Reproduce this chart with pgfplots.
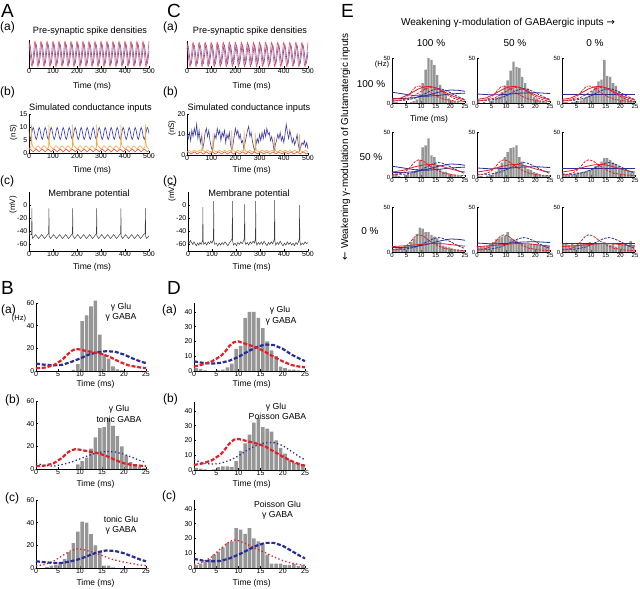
\documentclass[border=0pt]{standalone}
\usepackage{pgfplots}
\pgfplotsset{compat=1.18}
\usepackage{pgfplotstable}
\usepackage{fontspec}
\setmainfont{Liberation Sans}
\newfontfamily\arrowfont{DejaVu Sans}

\definecolor{cRed}{RGB}{228,30,38}
\definecolor{cBlue}{RGB}{40,45,150}
\definecolor{barG}{RGB}{150,150,150}
\definecolor{psRed}{RGB}{228,80,100}
\definecolor{psBlue}{RGB}{90,80,170}
\definecolor{cOr}{RGB}{242,170,60}
\definecolor{cRd}{RGB}{232,70,50}
\definecolor{cBl}{RGB}{60,60,165}
\definecolor{mpG}{RGB}{60,60,60}

\newcommand{\fs}[1]{\fontsize{#1}{#1}\selectfont}

\pgfplotsset{
  P/.style={scale only axis, anchor=south west,
    axis x line*=bottom, axis y line*=left,
    axis line style={black, line width=0.5pt},
    tick style={black, line width=0.4pt},
    tick align=inside, major tick length=2pt,
    tick label style={font=\fs{7}},
    xticklabel style={inner sep=0.8pt},
    yticklabel style={inner sep=1.5pt},
    /pgf/number format/assume math mode=true,
    /pgf/number format/1000 sep={},
    clip=false},
  TS/.style={P, xmin=0, xmax=500, xtick={0,100,...,500}},
  H/.style={P, width=110pt, height=68pt, xmin=0, xmax=25, ymin=0, xtick={0,5,...,25}},
  Ep/.style={P, width=73pt, height=45pt, xmin=0, xmax=25, ymin=0, ymax=50,
    xtick={0,5,...,25}, ytick={0,50}, tick label style={font=\fs{6}},
    major tick length=1.5pt},
  bars/.style={ybar, bar width=0.8, bar shift=0pt, fill=barG, draw=none},
  tdash/.style={line width=2.2pt, dash pattern=on 4pt off 1.8pt},
  tdot/.style={line width=1.3pt, dash pattern=on 1.3pt off 2.4pt},
  edash/.style={line width=0.8pt, dash pattern=on 2.5pt off 1.2pt},
  edd/.style={line width=0.8pt, dash pattern=on 2.5pt off 1pt on 0.8pt off 1pt},
}

% pre-synaptic spike densities
\pgfplotstableread{
t y
0 .95
12.5 .05
25 .95
37.5 .05
50 .95
62.5 .05
75 .95
87.5 .05
100 .95
112.5 .05
125 .95
137.5 .05
150 .95
162.5 .05
175 .95
187.5 .05
200 .95
212.5 .05
225 .95
237.5 .05
250 .95
262.5 .05
275 .95
287.5 .05
300 .95
312.5 .05
325 .95
337.5 .05
350 .95
362.5 .05
375 .95
387.5 .05
400 .95
412.5 .05
425 .95
437.5 .05
450 .95
462.5 .05
475 .95
487.5 .05
500 .95
}\psred
\pgfplotstableread{
t y
0 .7
4 .85
16.5 .15
29 .85
41.5 .15
54 .85
66.5 .15
79 .85
91.5 .15
104 .85
116.5 .15
129 .85
141.5 .15
154 .85
166.5 .15
179 .85
191.5 .15
204 .85
216.5 .15
229 .85
241.5 .15
254 .85
266.5 .15
279 .85
291.5 .15
304 .85
316.5 .15
329 .85
341.5 .15
354 .85
366.5 .15
379 .85
391.5 .15
404 .85
416.5 .15
429 .85
441.5 .15
454 .85
466.5 .15
479 .85
491.5 .15
500 .6
}\psblue

% small red conductance
\pgfplotstableread{
t y
0 1.2
5 1.5
17.5 0.5
30 1.5
42.5 0.5
55 1.5
67.5 0.5
80 1.5
92.5 0.5
105 1.5
117.5 0.5
130 1.5
142.5 0.5
155 1.5
167.5 0.5
180 1.5
192.5 0.5
205 1.5
217.5 0.5
230 1.5
242.5 0.5
255 1.5
267.5 0.5
280 1.5
292.5 0.5
305 1.5
317.5 0.5
330 1.5
342.5 0.5
355 1.5
367.5 0.5
380 1.5
392.5 0.5
405 1.5
417.5 0.5
430 1.5
442.5 0.5
455 1.5
467.5 0.5
480 1.5
492.5 0.5
500 1.0
}\gred

% E panel curves
\pgfplotstableread{
t y
0 2
2 3
4 5
5 7
6 10
7 14
8 17.5
9 19
10 18.5
11 17
12 14.5
14 10
16 6.5
18 4
20 3
22 2
25 1.5
}\Erd
\pgfplotstableread{
t y
0 2
3 3
6 5.5
8 9
10 13
12 16.5
13.5 17.5
15 16.5
17 13
19 9
21 5.5
23 3
25 2
}\ErdL
\pgfplotstableread{
t y
0 3
2 3
4 3
6 4
8 5.5
10 8
12 11.5
14 14.5
15 15.5
16 16
17 15.5
18 14.5
20 11.5
22 8
24 5
25 4
}\Ebd
\pgfplotstableread{
t y
0 4
3 5.5
6 10
9 15.5
11 18
13 18.5
15 17
17 14
19 10.5
21 7.5
23 5
25 3.5
}\ErsA
\pgfplotstableread{
t y
0 5.5
4 7.5
8 11.5
11 13.5
14 14
17 12
20 9
23 6.5
25 5.5
}\ErsB
\pgfplotstableread{
t y
0 6
5 7
10 8.5
14 9.5
18 9
22 7.5
25 6.5
}\ErsC
\pgfplotstableread{
t y
0 12
4 10
8 8
12 7.5
16 8.5
20 10
25 11
}\EbsA
\pgfplotstableread{
t y
0 5
4 5
8 6
12 8.5
16 12
20 14.5
23 14
25 13
}\EbsAA
\pgfplotstableread{
t y
0 10
5 9
10 9.5
15 11
20 11.5
25 10.5
}\EbsB
\pgfplotstableread{
t y
0 9.5
10 9.5
20 9.5
25 9.5
}\EbsC

\begin{document}
\begin{tikzpicture}
\useasboundingbox (0pt,0pt) rectangle (640pt,589pt);

% ---------------- panel letters ----------------
\node[anchor=base west, inner sep=0pt, font=\fs{19}] at (1pt,571pt) {A};
\node[anchor=base west, inner sep=0pt, font=\fs{19}] at (167pt,571pt) {C};
\node[anchor=base west, inner sep=0pt, font=\fs{19}] at (1pt,294pt) {B};
\node[anchor=base west, inner sep=0pt, font=\fs{19}] at (167pt,294pt) {D};
\node[anchor=base west, inner sep=0pt, font=\fs{19}] at (341pt,571pt) {E};

\foreach \xx/\yy/\tt in {0/558.5/(a), 0/493/(b), 0/404.5/(c), 163/558.5/(a), 163/493/(b), 163/404.5/(c), 1/275/(a), 5/185/(b), 5/87/(c), 162/275/(a), 163/186/(b), 162/89/(c)}
  \node[anchor=base west, inner sep=0pt, font=\fs{12}] at (\xx pt,\yy pt) {\tt};

% ---------------- A(a) ----------------
\begin{axis}[TS, at={(29pt,521pt)}, width=120pt, height=28pt, ymin=0, ymax=1, ytick=\empty]
\addplot[psBlue, line width=0.6pt, smooth] table {\psblue};
\addplot[psRed, line width=0.6pt, smooth] table {\psred};
\end{axis}
\node[anchor=base, font=\fs{9.2}] at (90pt,555pt) {Pre-synaptic spike densities};
\node[anchor=base, font=\fs{8.5}] at (92pt,500pt) {Time (ms)};

% ---------------- A(b) ----------------
\begin{axis}[TS, at={(29pt,436pt)}, width=120pt, height=39pt, ymin=0, ymax=15, ytick={0,5,10,15}]
\addplot[cBl, line width=0.6pt, smooth] coordinates {(0,9) (5,5.2) (17.5,9.8) (30,5.2) (42.5,9.8) (55,5.2) (67.5,9.8) (80,5.2) (92.5,9.8) (105,5.2) (117.5,9.8) (130,5.2) (142.5,9.8) (155,5.2) (167.5,9.8) (180,5.2) (192.5,9.8) (205,5.2) (217.5,9.8) (230,5.2) (242.5,9.8) (255,5.2) (267.5,9.8) (280,5.2) (292.5,9.8) (305,5.2) (317.5,9.8) (330,5.2) (342.5,9.8) (355,5.2) (367.5,9.8) (380,5.2) (392.5,9.8) (405,5.2) (417.5,9.8) (430,5.2) (442.5,9.8) (455,5.2) (467.5,9.8) (480,5.2) (492.5,9.8) (500,7.5)};
\addplot[cOr, line width=0.6pt] coordinates {(0,1.6) (9,2.5) (10,11) (12,4) (15,2.6) (25,1.6) (37.5,2.8) (50,1.6) (62.5,2.8) (75,1.6) (82,2.2) (83,11) (85,4) (88,2.6) (100,1.6) (112.5,2.8) (125,1.6) (137.5,2.8) (150,1.6) (162.5,2.8) (175,1.6) (181,2.2) (182,11) (184,4) (187,2.8) (200,1.6) (212.5,2.8) (225,1.6) (237.5,2.8) (250,1.6) (262.5,2.8) (275,1.6) (281,2.2) (282,11) (284,4) (287,2.8) (300,1.6) (312.5,2.8) (325,1.6) (337.5,2.8) (350,1.6) (362.5,2.8) (375,1.6) (382,2.4) (383,11) (385,4) (388,2.6) (400,1.6) (412.5,2.8) (425,1.6) (437.5,2.8) (450,1.6) (462.5,2.8) (475,1.6) (484,2.4) (485,11) (487,4) (490,2.4) (500,1.6)};
\addplot[cRd, line width=0.6pt, smooth] table {\gred};
\end{axis}
\node[anchor=base, font=\fs{9.2}] at (90.5pt,478pt) {Simulated conductance inputs};
\node[anchor=base, font=\fs{8.5}] at (92pt,416pt) {Time (ms)};
\node[rotate=90, font=\fs{8}] at (13.5pt,456.5pt) {(nS)};

% ---------------- A(c) ----------------
\begin{axis}[TS, at={(29pt,338pt)}, width=120pt, height=59pt, ymin=-70, ymax=20, ytick={-60,-40,-20,0}]
\addplot[mpG, line width=0.5pt] coordinates {(0,-40) (2.5,-45) (10,-45) (11,-42) (12,-5) (13,-46) (15,-51) (27.5,-45) (40,-51) (52.5,-45) (65,-51) (77.5,-45) (82,-43) (83,-5) (84,-47) (90,-51) (102.5,-45) (115,-51) (127.5,-45) (140,-51) (152.5,-45) (165,-51) (177.5,-45) (181,-43) (182,-5) (183,-47) (190,-51) (202.5,-45) (215,-51) (227.5,-45) (240,-51) (252.5,-45) (265,-51) (277.5,-45) (281,-43) (282,-5) (283,-47) (290,-51) (302.5,-45) (315,-51) (327.5,-45) (340,-51) (352.5,-45) (365,-51) (377.5,-45) (382,-43) (383,-5) (384,-47) (390,-51) (402.5,-45) (415,-51) (427.5,-45) (440,-51) (452.5,-45) (465,-51) (477.5,-45) (484,-43) (485,-5) (486,-47) (490,-51) (500,-47)};
\end{axis}
\node[anchor=base, font=\fs{9.2}] at (89pt,392.4pt) {Membrane potential};
\node[anchor=base, font=\fs{8.5}] at (92pt,319.5pt) {Time (ms)};
\node[rotate=90, font=\fs{8}] at (13pt,384pt) {(mV)};

% ---------------- C(a) ----------------
\begin{axis}[TS, at={(187pt,521pt)}, width=121pt, height=27pt, ymin=0, ymax=1, ytick=\empty]
\addplot[psBlue, line width=0.6pt, smooth] table {\psblue};
\addplot[psRed, line width=0.6pt, smooth] table {\psred};
\end{axis}
\node[anchor=base, font=\fs{9.2}] at (250pt,555pt) {Pre-synaptic spike densities};
\node[anchor=base, font=\fs{8.5}] at (251.7pt,500pt) {Time (ms)};

% ---------------- C(b) ----------------
\begin{axis}[TS, at={(187pt,434pt)}, width=121pt, height=41pt, ymin=0, ymax=20, ytick={0,10,20}]
\addplot[cBl, line width=0.6pt] coordinates {(0,10) (5,8) (10,11) (15,7) (20,12) (25,9) (30,13) (35,10) (40,15) (45,8) (50,12) (55,6) (60,9) (65,3) (70,6) (75,11) (80,13) (85,9) (90,12) (95,7) (100,4) (105,2) (110,6) (115,10) (120,8) (125,13) (130,10) (135,12) (140,7) (145,11) (150,9) (155,12) (160,6) (165,10) (170,8) (175,11) (180,5) (185,2) (190,5) (195,9) (200,13) (205,10) (210,12) (215,8) (220,10) (225,6) (230,7) (235,3) (240,6) (245,9) (250,12) (255,14) (260,9) (265,11) (270,7) (275,4) (280,2) (285,5) (290,8) (295,6) (300,10) (305,7) (310,11) (315,8) (320,12) (325,9) (330,13) (335,10) (340,11) (345,7) (350,9) (355,6) (360,2) (365,5) (370,7) (375,10) (380,8) (385,11) (390,7) (395,9) (400,6) (405,10) (410,15) (415,11) (420,8) (425,12) (430,9) (435,6) (440,8) (445,5) (450,7) (455,10) (460,5) (465,2) (470,4) (475,6) (480,5) (485,7) (490,4) (495,6) (500,3)};
\addplot[cOr, line width=0.6pt] coordinates {(0,1.5) (10,2.2) (20,1.4) (30,2.4) (40,1.6) (50,2.2) (61,2) (62,11) (64,4) (67,2.2) (75,1.5) (85,2.4) (95,1.6) (106,2) (107,10.5) (109,4) (112,2) (125,1.5) (135,2.4) (145,1.5) (155,2.3) (165,1.5) (175,2.2) (184,2) (185,12) (187,4) (190,2.2) (200,1.5) (210,2.4) (220,1.6) (230,2.2) (235,2) (236,12) (238,4) (241,2) (250,1.5) (260,2.3) (270,1.5) (281,2) (282,10.5) (284,4) (287,2.2) (300,1.5) (310,2.4) (320,1.6) (330,2.3) (340,1.5) (350,2.2) (360,2) (361,9) (363,4) (366,2) (375,1.5) (385,2.4) (395,1.6) (405,2.3) (415,1.5) (425,2.2) (435,1.5) (445,2.3) (455,1.6) (464,2) (465,10) (467,4) (470,2) (480,1.5) (490,2.2) (500,1.6)};
\addplot[cRd, line width=0.6pt, smooth] table {\gred};
\end{axis}
\node[anchor=base, font=\fs{9.2}] at (249pt,478pt) {Simulated conductance inputs};
\node[anchor=base, font=\fs{8.5}] at (251.7pt,416pt) {Time (ms)};
\node[rotate=90, font=\fs{8}] at (172pt,461pt) {(nS)};

% ---------------- C(c) ----------------
\begin{axis}[TS, at={(188pt,338pt)}, width=120pt, height=59pt, ymin=-70, ymax=20, ytick={-60,-40,-20,0}]
\addplot[mpG, line width=0.5pt] coordinates {(0,-55) (5,-58) (10,-54) (15,-57) (20,-60) (25,-56) (30,-59) (35,-62) (40,-58) (45,-61) (50,-57) (55,-60) (60,-55) (61,-52) (62,-3) (63,-55) (66,-60) (72,-57) (78,-61) (84,-56) (90,-59) (95,-55) (100,-58) (105,-53) (106,-50) (107,6) (108,-55) (112,-60) (118,-58) (124,-62) (130,-58) (136,-61) (142,-57) (148,-60) (154,-56) (160,-59) (166,-62) (172,-58) (178,-55) (183,-52) (184,-50) (185,6) (186,-55) (190,-61) (196,-58) (202,-62) (208,-57) (214,-60) (220,-56) (226,-59) (232,-54) (235,-51) (236,1) (237,-55) (241,-60) (247,-57) (253,-61) (259,-56) (265,-59) (271,-55) (277,-58) (280,-53) (281,-50) (282,6) (283,-55) (287,-61) (293,-57) (299,-60) (305,-56) (311,-60) (317,-55) (323,-59) (329,-62) (335,-57) (341,-60) (347,-56) (353,-59) (358,-54) (360,-50) (361,8) (362,-55) (366,-61) (372,-57) (378,-60) (384,-55) (390,-59) (396,-62) (402,-58) (408,-61) (414,-56) (420,-60) (426,-57) (432,-61) (438,-58) (444,-62) (450,-57) (456,-60) (461,-55) (464,-51) (465,0) (466,-55) (470,-61) (476,-58) (482,-60) (488,-56) (494,-59) (500,-57)};
\end{axis}
\node[anchor=base, font=\fs{9.2}] at (249pt,392.4pt) {Membrane potential};
\node[anchor=base, font=\fs{8.5}] at (251.7pt,319.5pt) {Time (ms)};
\node[rotate=90, font=\fs{8}] at (172pt,396pt) {(mV)};

% ---------------- B(a) ----------------
\begin{axis}[H, at={(36pt,218pt)}, ymax=60, ytick={0,20,40,60}]
\addplot[bars] coordinates {(8.5,1) (9.5,6) (10.5,44) (11.5,49) (12.5,57) (13.5,62) (14.5,32) (15.5,15) (16.5,11) (17.5,4) (18.5,1.5) (19.5,0.5)};
\addplot[cBlue, tdash] coordinates {(0,6.5) (2,5.5) (4,5) (6,5.5) (8,8) (10,11) (12,14.5) (14,16.5) (16,17.5) (18,17) (20,14.5) (22,11) (24,8) (25,7)};
\addplot[cRed, tdash] coordinates {(0,2.5) (2,3) (4,5) (6,10) (7,14) (8,17.5) (9,19.5) (10,19) (11,18) (13,16.5) (15,15) (17,12) (19,8) (21,5) (23,3.5) (25,2.5)};
\end{axis}
\node[font=\fs{7.5}] at (19pt,270.5pt) {(Hz)};
\node[anchor=base, font=\fs{8.7}] at (121pt,279.5pt) {γ Glu};
\node[anchor=base, font=\fs{8.7}] at (121pt,269pt) {γ GABA};
\node[anchor=base, font=\fs{8.5}] at (95.5pt,202.5pt) {Time (ms)};

% ---------------- B(b) ----------------
\begin{axis}[H, at={(36pt,120pt)}, ymax=60, ytick={0,20,40,60}]
\addplot[bars] coordinates {(9.5,4) (10.5,7) (11.5,10) (12.5,18) (13.5,28) (14.5,36) (15.5,37) (16.5,45) (17.5,38) (18.5,29) (19.5,20) (20.5,12) (21.5,6) (22.5,4) (23.5,2) (24.5,1)};
\addplot[cBlue, tdot] coordinates {(0,5) (2,3) (4,2.5) (6,4) (8,6) (10,9) (12,12) (14,14.5) (16,15.5) (18,15) (20,13) (22,10) (24,7) (25,6)};
\addplot[cRed, tdash] coordinates {(0,2.5) (2,3) (4,5) (6,10) (7,14) (8,16.5) (9,17.5) (10,17) (12,15.5) (14,14) (16,11.5) (18,8) (20,5) (22,3.5) (25,2.5)};
\end{axis}
\node[anchor=base, font=\fs{8.7}] at (119pt,177pt) {γ Glu};
\node[anchor=base, font=\fs{8.7}] at (119pt,166.5pt) {tonic GABA};
\node[anchor=base, font=\fs{8.5}] at (95.5pt,102.5pt) {Time (ms)};

% ---------------- B(c) ----------------
\begin{axis}[H, at={(36pt,21pt)}, ymax=60, ytick={0,20,40,60}]
\addplot[bars] coordinates {(2.5,1) (3.5,2) (4.5,3) (5.5,5) (6.5,8) (7.5,14) (8.5,22) (9.5,32) (10.5,41) (11.5,40) (12.5,30) (13.5,20) (14.5,14) (15.5,2) (16.5,2) (17.5,0.5)};
\addplot[cRed, tdot] coordinates {(0,2) (2,3) (4,6) (6,11) (8,15.5) (9.5,17) (11,16) (13,14) (15,11) (17,8) (19,6) (21,4.5) (23,3) (25,2)};
\addplot[cBlue, tdash] coordinates {(0,6) (2,5) (4,4.5) (6,4.5) (8,6) (10,8) (12,11) (14,14) (16,15.5) (18,15) (20,13) (22,10) (24,7) (25,6)};
\end{axis}
\node[anchor=base, font=\fs{8.7}] at (121pt,66.5pt) {tonic Glu};
\node[anchor=base, font=\fs{8.7}] at (121pt,56pt) {γ GABA};
\node[anchor=base, font=\fs{8.5}] at (95.5pt,3.3pt) {Time (ms)};

% ---------------- D(a) ----------------
\begin{axis}[H, at={(194pt,218pt)}, width=111pt, ymax=46, ytick={0,10,20,30,40}]
\addplot[bars] coordinates {(0.5,2) (1.5,1.5) (2.5,0.5) (5.5,0.5) (6.5,1) (7.5,2.5) (8.5,5) (9.5,15) (10.5,17) (11.5,36) (12.5,40) (13.5,40) (14.5,36) (15.5,29) (16.5,20) (17.5,14) (18.5,10) (19.5,3) (20.5,2) (21.5,1) (22.5,1) (23.5,0.5)};
\addplot[cBlue, tdash] coordinates {(0,6.5) (2,5.5) (4,5) (6,5.5) (8,7) (10,9.5) (12,13) (14,16) (16,18) (18,17.5) (20,15) (22,11) (24,8) (25,6.7)};
\addplot[cRed, tdash] coordinates {(0,3) (2,4.5) (4,6.5) (6,10) (7,13) (8,17) (9,19.5) (10,20) (12,18) (14,16) (16,13) (18,9.5) (20,6.5) (22,4) (24,2.8) (25,2.5)};
\end{axis}
\node[anchor=base, font=\fs{8.7}] at (280pt,276pt) {γ Glu};
\node[anchor=base, font=\fs{8.7}] at (281pt,265.5pt) {γ GABA};
\node[anchor=base, font=\fs{8.5}] at (251.7pt,202.5pt) {Time (ms)};

% ---------------- D(b) ----------------
\begin{axis}[H, at={(194pt,119pt)}, width=111pt, ymax=46, ytick={0,10,20,30,40}]
\addplot[bars] coordinates {(0.5,1.5) (1.5,1) (2.5,0.5) (4.5,0.5) (5.5,2) (6.5,2.5) (7.5,2.5) (8.5,2) (9.5,6) (10.5,13) (11.5,18) (12.5,24) (13.5,32) (14.5,35) (15.5,29) (16.5,28) (17.5,26) (18.5,20) (19.5,15) (20.5,11) (21.5,7) (22.5,5) (23.5,5) (24.5,3)};
\addplot[cBlue, tdot] coordinates {(0,7) (2,4.5) (4,4) (6,4.5) (8,6.5) (10,9.5) (12,13.5) (14,16.5) (16,18.5) (18,18.5) (20,16.5) (22,12.5) (24,8.5) (25,7)};
\addplot[cRed, tdash] coordinates {(0,3.4) (2,4.5) (4,6.5) (6,10.5) (7,14) (8,18) (9,20.5) (10,21) (12,19.5) (14,18) (16,16) (18,12.5) (20,9) (22,6) (24,3.5) (25,3)};
\end{axis}
\node[anchor=base, font=\fs{8.7}] at (276pt,179.5pt) {γ Glu};
\node[anchor=base, font=\fs{8.7}] at (277.5pt,169.5pt) {Poisson GABA};
\node[anchor=base, font=\fs{8.5}] at (251.7pt,102.5pt) {Time (ms)};

% ---------------- D(c) ----------------
\begin{axis}[H, at={(194pt,21pt)}, width=111pt, ymax=46, ytick={0,10,20,30,40}]
\addplot[bars] coordinates {(0.5,2) (1.5,3) (2.5,4) (3.5,6) (4.5,9) (5.5,11) (6.5,14) (7.5,17) (8.5,18) (9.5,27) (10.5,26) (11.5,23) (12.5,27) (13.5,20) (14.5,18) (15.5,16) (16.5,9) (17.5,3) (18.5,3) (19.5,3) (20.5,2) (21.5,2) (22.5,3) (23.5,1.5) (24.5,2)};
\addplot[cRed, tdot] coordinates {(0,2.3) (2,4) (4,7.5) (6,13) (8,18) (9,19) (10,18.5) (12,16) (14,13) (16,10.5) (18,7.5) (20,5) (22,3.3) (25,1.8)};
\addplot[cBlue, tdash] coordinates {(0,6.2) (2,5) (4,4.5) (6,4.8) (8,6.5) (10,9) (12,12) (14,15) (16,17) (18,17) (20,15) (22,11.5) (24,8) (25,6.5)};
\end{axis}
\node[anchor=base, font=\fs{8.7}] at (277.5pt,81pt) {Poisson Glu};
\node[anchor=base, font=\fs{8.7}] at (277.5pt,71pt) {γ GABA};
\node[anchor=base, font=\fs{8.5}] at (251.7pt,3pt) {Time (ms)};

% ---------------- E ----------------
\node[anchor=base, font=\fs{10}] at (508pt,563pt) {Weakening γ-modulation of GABAergic inputs {\arrowfont →}};
\node[anchor=base, font=\fs{10}] at (431pt,542.5pt) {100 \%};
\node[anchor=base, font=\fs{10}] at (515pt,542.5pt) {50 \%};
\node[anchor=base, font=\fs{10}] at (595pt,542.5pt) {0 \%};
\node[anchor=base, font=\fs{10}] at (371pt,501.7pt) {100 \%};
\node[anchor=base, font=\fs{10}] at (371pt,428.3pt) {50 \%};
\node[anchor=base, font=\fs{10}] at (370pt,354pt) {0 \%};
\node[anchor=base, rotate=90, font=\fs{10}] at (348pt,442.3pt) {{\arrowfont ←} Weakening γ-modulation of Glutamatergic inputs};
\node[anchor=base, font=\fs{7.5}] at (382pt,522pt) {(Hz)};
\node[anchor=base, font=\fs{8.5}] at (429pt,467.5pt) {Time (ms)};

% row 1
\begin{axis}[Ep, at={(392pt,486pt)}]
\addplot[bars] coordinates {(0.5,1.5) (1.5,1) (6.5,1) (7.5,2) (8.5,4) (9.5,10) (10.5,22) (11.5,37) (12.5,50) (13.5,48) (14.5,42) (15.5,31) (16.5,20) (17.5,14) (18.5,9) (19.5,5) (20.5,3) (21.5,2) (22.5,1) (23.5,0.5)};
\addplot[cBlue, line width=0.8pt] table {\EbsA};
\addplot[cBlue, line width=0.8pt] table {\EbsAA};
\addplot[cBlue, edash] table {\Ebd};
\addplot[cRed, line width=0.8pt] table {\ErsA};
\addplot[cRed, edash] table {\ErdL};
\addplot[cRed, edd] table {\Erd};
\end{axis}
\begin{axis}[Ep, at={(477pt,486pt)}]
\addplot[bars] coordinates {(0.5,1) (2.5,1) (4.5,2) (5.5,3) (6.5,5) (7.5,7) (8.5,12) (9.5,19) (10.5,25) (11.5,36) (12.5,46) (13.5,40) (14.5,39) (15.5,29) (16.5,22) (17.5,16) (18.5,11) (19.5,7) (20.5,5) (21.5,3) (22.5,2) (23.5,1)};
\addplot[cBlue, line width=0.8pt] table {\EbsB};
\addplot[cBlue, edash] table {\Ebd};
\addplot[cRed, line width=0.8pt] table {\ErsA};
\addplot[cRed, edash] table {\ErdL};
\addplot[cRed, edd] table {\Erd};
\end{axis}
\begin{axis}[Ep, at={(562pt,486pt)}]
\addplot[bars] coordinates {(0.5,1) (1.5,1) (3.5,1) (4.5,1.5) (5.5,2) (6.5,3) (7.5,5) (8.5,7) (9.5,10) (10.5,13.5) (11.5,18) (12.5,24) (13.5,26) (14.5,48) (15.5,30) (16.5,29) (17.5,22) (18.5,19) (19.5,13.5) (20.5,10) (21.5,7) (22.5,4) (23.5,2) (24.5,1)};
\addplot[cBlue, line width=0.8pt] table {\EbsC};
\addplot[cBlue, edash] table {\Ebd};
\addplot[cRed, line width=0.8pt] table {\ErsA};
\addplot[cRed, edash] table {\ErdL};
\addplot[cRed, edd] table {\Erd};
\end{axis}

% row 2
\begin{axis}[Ep, at={(392pt,412pt)}]
\addplot[bars] coordinates {(0.5,2) (1.5,4) (2.5,1) (4.5,2) (5.5,4) (6.5,4) (7.5,6) (8.5,9) (9.5,19) (10.5,33) (11.5,35) (12.5,43) (13.5,24) (14.5,22) (15.5,13) (16.5,9) (17.5,6) (18.5,6) (19.5,4) (20.5,3) (21.5,2) (22.5,1) (23.5,1)};
\addplot[cBlue, line width=0.8pt] table {\EbsA};
\addplot[cBlue, line width=0.8pt] table {\EbsAA};
\addplot[cBlue, edash] table {\Ebd};
\addplot[cRed, line width=0.8pt] table {\ErsB};
\addplot[cRed, edash] table {\Erd};
\end{axis}
\begin{axis}[Ep, at={(477pt,412pt)}]
\addplot[bars] coordinates {(0.5,1) (1.5,1) (3.5,1.5) (4.5,2) (5.5,3) (6.5,6) (7.5,11) (8.5,16) (9.5,22) (10.5,28) (11.5,32) (12.5,33) (13.5,35) (14.5,22) (15.5,17) (16.5,13) (17.5,9) (18.5,7.5) (19.5,5.5) (20.5,4.5) (21.5,3) (22.5,2) (23.5,1.5) (24.5,1)};
\addplot[cBlue, line width=0.8pt] table {\EbsB};
\addplot[cBlue, edash] table {\Ebd};
\addplot[cRed, line width=0.8pt] table {\ErsB};
\addplot[cRed, edash] table {\Erd};
\end{axis}
\begin{axis}[Ep, at={(562pt,412pt)}]
\addplot[bars] coordinates {(0.5,4) (1.5,3) (2.5,3) (3.5,3) (4.5,4) (5.5,5) (6.5,5) (7.5,6) (8.5,7) (9.5,8) (10.5,10) (11.5,12) (12.5,14) (13.5,17) (14.5,21) (15.5,21) (16.5,19) (17.5,16) (18.5,14) (19.5,12) (20.5,10) (21.5,8) (22.5,7) (23.5,5) (24.5,4)};
\addplot[cBlue, line width=0.8pt] table {\EbsC};
\addplot[cBlue, edash] table {\Ebd};
\addplot[cRed, line width=0.8pt] table {\ErsB};
\addplot[cRed, edash] table {\Erd};
\end{axis}

% row 3
\begin{axis}[Ep, at={(392pt,337pt)}]
\addplot[bars] coordinates {(0.5,3) (1.5,4) (2.5,5) (3.5,6) (4.5,7) (5.5,8) (6.5,11) (7.5,15) (8.5,20) (9.5,27) (10.5,26) (11.5,22) (12.5,22) (13.5,19) (14.5,17) (15.5,15) (16.5,11) (17.5,7) (18.5,6) (19.5,5) (20.5,4) (21.5,3) (22.5,3) (23.5,2) (24.5,2)};
\addplot[cBlue, line width=0.8pt] table {\EbsAA};
\addplot[cBlue, edash] table {\Ebd};
\addplot[cRed, line width=0.8pt] table {\ErsC};
\addplot[cRed, edash] table {\Erd};
\end{axis}
\begin{axis}[Ep, at={(477pt,337pt)}]
\addplot[bars] coordinates {(0.5,5) (1.5,6) (2.5,6) (3.5,7) (4.5,9) (5.5,11) (6.5,14) (7.5,15) (8.5,17) (9.5,18) (10.5,22) (11.5,15) (12.5,14) (13.5,13) (14.5,11) (15.5,10) (16.5,9) (17.5,8.5) (18.5,9) (19.5,8) (20.5,9) (21.5,8) (22.5,7) (23.5,8) (24.5,7)};
\addplot[cBlue, line width=0.8pt] table {\EbsB};
\addplot[cBlue, edash] table {\Ebd};
\addplot[cRed, line width=0.8pt] table {\ErsC};
\addplot[cRed, edash] table {\Erd};
\end{axis}
\begin{axis}[Ep, at={(562pt,337pt)}]
\addplot[bars] coordinates {(0.5,9) (1.5,10) (2.5,8) (3.5,9) (4.5,8) (5.5,9) (6.5,10) (7.5,9) (8.5,10) (9.5,11) (10.5,9) (11.5,10) (12.5,9) (13.5,10) (14.5,11) (15.5,9) (16.5,8) (17.5,10) (18.5,6) (19.5,9) (20.5,8) (21.5,9) (22.5,8) (23.5,12) (24.5,8)};
\addplot[cBlue, line width=0.8pt] table {\EbsC};
\addplot[cBlue, edash] table {\Ebd};
\addplot[cRed, line width=0.8pt] table {\ErsC};
\addplot[cRed, edash] table {\Erd};
\end{axis}

\end{tikzpicture}
\end{document}
